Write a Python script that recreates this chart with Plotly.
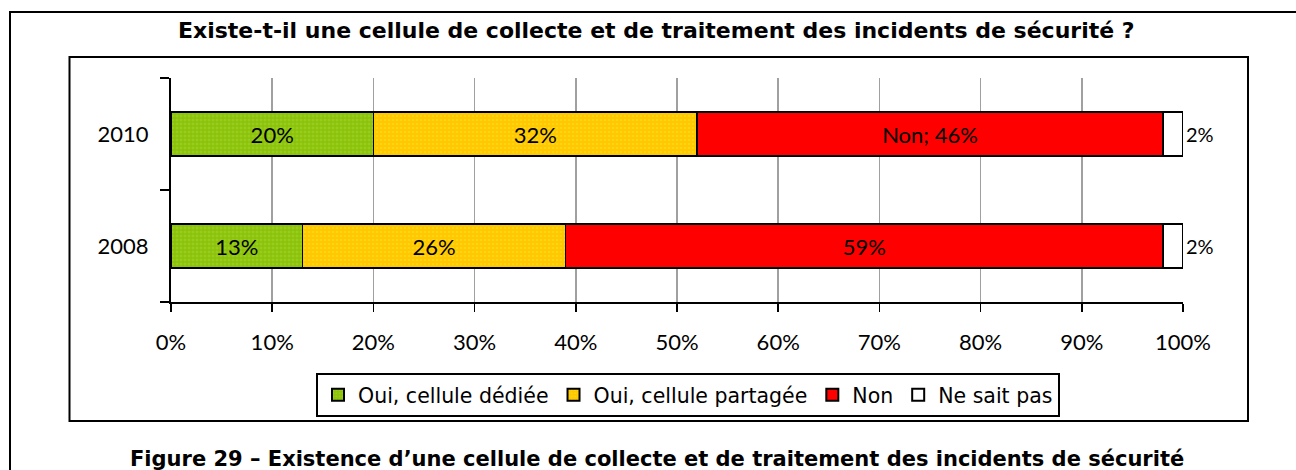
import plotly.graph_objects as go

years = ["2008", "2010"]
series_names = ["Oui, cellule dédiée", "Oui, cellule partagée", "Non", "Ne sait pas"]
oui_dediee = [0.13, 0.20]
oui_partagee = [0.26, 0.32]
non = [0.59, 0.46]
ne_sait_pas = [0.02, 0.02]
label_dediee = ["13%", "20%"]
label_partagee = ["26%", "32%"]
label_non = ["59%", "Non; 46%"]
label_nsp = ["2%", "2%"]
x_ticks = [i / 10 for i in range(11)]
x_ticklabels = [f"{i*10}%" for i in range(11)]

W, H = 1296, 470
L, R, T, B = 171, 1183, 78, 302  # plot area in px


def px_x(px):
    return (px - L) / (R - L)


def px_y(py):
    return (B - py) / (B - T)


fig = go.Figure()

styles = [
    dict(bg="#8CC30A", fg="#A6D63A", shape="."),
    dict(bg="#FFC800", fg="#FFE020", shape="."),
    dict(bg="#FF0000", fg=None, shape=""),
    dict(bg="#FFFFFF", fg=None, shape=""),
]
values = [oui_dediee, oui_partagee, non, ne_sait_pas]
labels = [label_dediee, label_partagee, label_non, label_nsp]

for i, (name, vals, txt, st) in enumerate(zip(series_names, values, labels, styles)):
    marker = dict(color=st["bg"], line=dict(color="black", width=1.6))
    if st["shape"]:
        marker["pattern"] = dict(shape=st["shape"], fgcolor=st["fg"], bgcolor=st["bg"],
                                 size=4, solidity=0.35, fillmode="overlay")
    last = i == len(series_names) - 1
    fig.add_trace(go.Bar(
        y=years, x=vals, name=name, orientation="h", marker=marker,
        text=txt,
        textposition="outside" if last else "inside",
        insidetextanchor="middle",
        textangle=0,
        constraintext="none",
        cliponaxis=False,
        textfont=dict(family="Lato", size=20 if last else 22, color="black"),
        outsidetextfont=dict(family="Lato", size=20, color="black"),
        hoverinfo="skip",
    ))

fig.update_layout(
    width=W, height=H,
    margin=dict(l=L, r=W - R, t=T, b=H - B, pad=0),
    barmode="stack",
    bargap=0.61,
    paper_bgcolor="white",
    plot_bgcolor="white",
    font=dict(family="Lato", size=22, color="black"),
    showlegend=True,
    legend=dict(
        orientation="h",
        x=px_x(316), y=px_y(373), xanchor="left", yanchor="top",
        bordercolor="black", borderwidth=2,
        font=dict(family="DejaVu Sans", size=20.5, color="black"),
        traceorder="normal",
        itemsizing="constant",
        tracegroupgap=0,
    ),
    xaxis=dict(
        range=[0, 1],
        tickvals=x_ticks, ticktext=x_ticklabels,
        showgrid=True, gridcolor="#A0A0A0", gridwidth=1.5,
        showline=True, linecolor="black", linewidth=2,
        ticks="outside", ticklen=8, tickwidth=1.5, tickcolor="black",
        ticklabelstandoff=12,
        tickfont=dict(family="Lato", size=22),
        zeroline=False, fixedrange=True,
    ),
    yaxis=dict(
        type="category", categoryorder="array", categoryarray=years,
        showline=True, linecolor="black", linewidth=2,
        ticks="outside", ticklen=9, tickwidth=1.5, tickcolor="black",
        tickson="boundaries",
        ticklabelstandoff=16,
        tickfont=dict(family="Lato", size=22),
        showgrid=False, zeroline=False, fixedrange=True,
    ),
)

# Outer frame and chart-area frame
fig.add_shape(type="rect", xref="paper", yref="paper",
              x0=px_x(10), x1=px_x(1305), y0=px_y(480), y1=px_y(12),
              line=dict(color="black", width=2), layer="above")
fig.add_shape(type="rect", xref="paper", yref="paper",
              x0=px_x(69.5), x1=px_x(1248), y0=px_y(421), y1=px_y(57),
              line=dict(color="black", width=2), layer="above")

fig.add_annotation(
    text="<b>Existe-t-il une cellule de collecte et de traitement des incidents de sécurité ?</b>",
    xref="paper", yref="paper", x=px_x(656), y=px_y(31),
    xanchor="center", yanchor="middle", showarrow=False,
    font=dict(family="DejaVu Sans", size=22, color="black"),
)
fig.add_annotation(
    text="<b>Figure 29 – Existence d’une cellule de collecte et de traitement des incidents de sécurité</b>",
    xref="paper", yref="paper", x=px_x(657), y=px_y(459),
    xanchor="center", yanchor="middle", showarrow=False,
    font=dict(family="DejaVu Sans", size=21, color="black"),
)

fig.write_html(
    "out.html",
    config={"displayModeBar": False, "staticPlot": True},
    post_script="document.body.style.margin='0';document.body.style.overflow='hidden';",
)
